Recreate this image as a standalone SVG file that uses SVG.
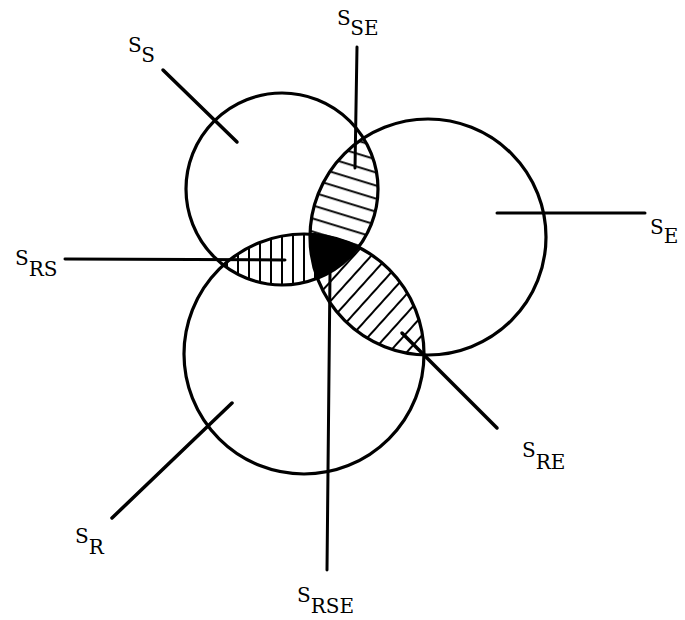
<svg xmlns="http://www.w3.org/2000/svg" width="685" height="620" viewBox="0 0 685 620">
<style>
.c{fill:none;stroke:#000;stroke-width:3.2}
.l{stroke:#000;stroke-width:3.5;stroke-linecap:round;fill:none}
.h{stroke:#000;stroke-width:2}
text{font-family:"DejaVu Serif","Liberation Serif",serif;font-size:20px;fill:#000}
</style>
<defs>
<clipPath id="cS"><circle cx="282" cy="189" r="96"/></clipPath>
<clipPath id="cE"><circle cx="428" cy="237" r="118"/></clipPath>
<clipPath id="cR"><circle cx="304" cy="354" r="120"/></clipPath>
<pattern id="pSE" width="40" height="12.5" patternUnits="userSpaceOnUse" patternTransform="rotate(17)"><line class="h" x1="0" y1="5" x2="40" y2="5"/></pattern>
<pattern id="pRS" width="11" height="40" patternUnits="userSpaceOnUse" patternTransform="translate(2 0)"><line class="h" x1="5" y1="0" x2="5" y2="40"/></pattern>
<pattern id="pRE" width="40" height="13" patternUnits="userSpaceOnUse" patternTransform="rotate(-48)"><line class="h" x1="0" y1="5" x2="40" y2="5"/></pattern>
</defs>
<g id="hatching">
<g clip-path="url(#cS)"><g clip-path="url(#cE)"><rect x="280" y="120" width="120" height="180" fill="url(#pSE)"/></g></g>
<g clip-path="url(#cS)"><g clip-path="url(#cR)"><rect x="200" y="220" width="180" height="80" fill="url(#pRS)"/></g></g>
<g clip-path="url(#cR)"><g clip-path="url(#cE)"><rect x="290" y="220" width="150" height="150" fill="url(#pRE)"/></g></g>
<g id="SRSE-region" clip-path="url(#cS)"><g clip-path="url(#cE)"><circle cx="304" cy="354" r="120" fill="#000"/></g></g>
</g>
<g id="circle-S"><circle class="c" cx="282" cy="189" r="96"/></g>
<g id="circle-E"><circle class="c" cx="428" cy="237" r="118"/></g>
<g id="circle-R"><circle class="c" cx="304" cy="354" r="120"/></g>
<g id="connectors">
<line class="l" x1="163" y1="70" x2="237" y2="142"/>
<line class="l" x1="357" y1="47" x2="355" y2="168" style="stroke-width:3"/>
<line class="l" x1="497" y1="213" x2="645" y2="213" style="stroke-width:3"/>
<line class="l" x1="65" y1="259" x2="285" y2="260" style="stroke-width:3"/>
<line class="l" x1="112" y1="518" x2="232" y2="403"/>
<line class="l" x1="330" y1="273" x2="327" y2="570" style="stroke-width:3"/>
<line class="l" x1="402" y1="333" x2="497" y2="428"/>
</g>
<g id="label-SS"><text x="128" y="52">S<tspan dy="10">S</tspan></text></g>
<g id="label-SSE"><text x="337" y="25">S<tspan dy="10">SE</tspan></text></g>
<g id="label-SE"><text x="650" y="234">S<tspan dy="9">E</tspan></text></g>
<g id="label-SRS"><text x="15" y="265">S<tspan dy="11">RS</tspan></text></g>
<g id="label-SR"><text x="75" y="543">S<tspan dy="11">R</tspan></text></g>
<g id="label-SRSE"><text x="297" y="602">S<tspan dy="11">RSE</tspan></text></g>
<g id="label-SRE"><text x="522" y="457">S<tspan dy="12">RE</tspan></text></g>
</svg>
